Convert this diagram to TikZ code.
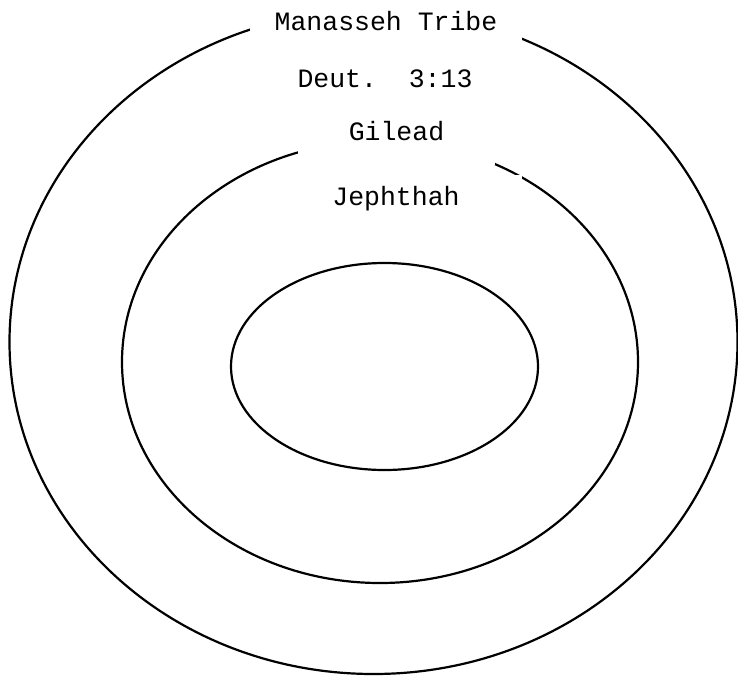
\documentclass[tikz,border=0pt]{standalone}
\usepackage{fontspec}
\setmonofont{Liberation Mono}
\usepackage{tikz}
\usepackage{xcolor}
\usetikzlibrary{shapes.geometric}
\definecolor{ink}{RGB}{0,0,0}
\tikzset{
  ring/.style={draw=ink,ellipse,line width=2.2pt,inner sep=0pt},
  tagtext/.style={font=\ttfamily\fontsize{26.5}{30}\selectfont,text=ink,align=center,inner sep=0pt},
  maskedtag/.style={tagtext,fill=white}
}

\begin{document}
\begin{tikzpicture}[x=1pt,y=-1pt]
  \useasboundingbox (0,0) rectangle (738,677);

  % nested regions
  \node[ring,minimum width=728pt,minimum height=664pt] (tribe) at (373.5,342) {};
  \node[ring,minimum width=516pt,minimum height=442pt] (land) at (380,362) {};
  \node[ring,minimum width=307pt,minimum height=207pt] (judge) at (384.5,366.5) {};

  % labels
  \node[maskedtag,minimum width=272pt,minimum height=44pt] (tribename) at (386,21) {Manasseh Tribe};
  \node[tagtext] (ref) at (385,79) {Deut.\ \ 3:13};
  \node[maskedtag,minimum width=197pt,minimum height=68pt] (landname) at (396.5,131) {Gilead};
  \node[maskedtag,minimum width=252pt,minimum height=48pt] (judgename) at (396,199) {Jephthah};
\end{tikzpicture}
\end{document}
